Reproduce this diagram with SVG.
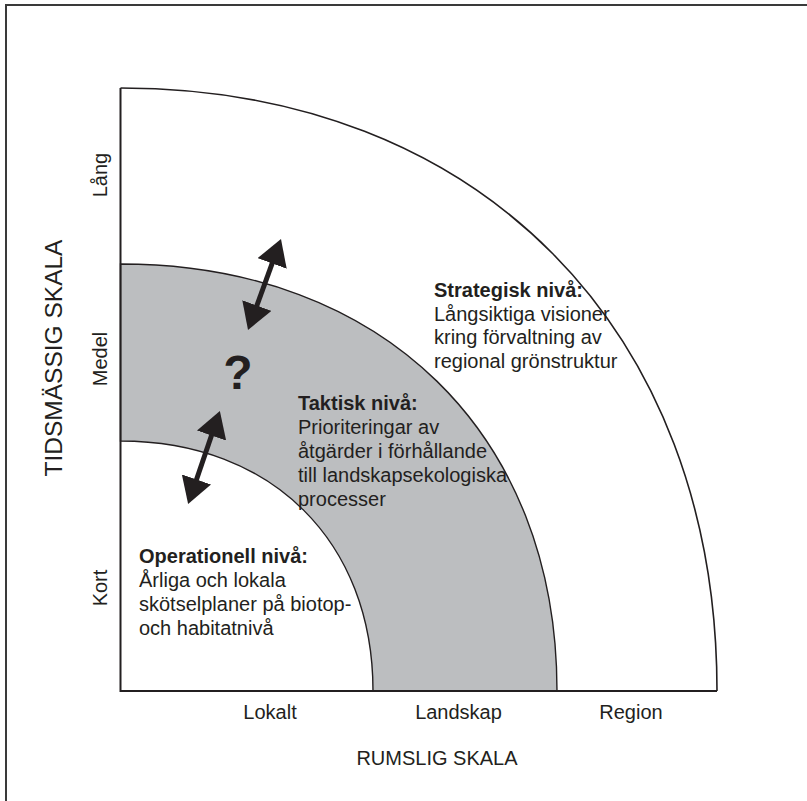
<svg xmlns="http://www.w3.org/2000/svg" width="807" height="801" viewBox="0 0 807 801">
  <defs>
    <style>
      .t { font-family: "Liberation Sans", Arial, sans-serif; font-size: 20px; fill: #231f20; }
      .b { font-weight: bold; }
      .line { fill: none; stroke: #231f20; }
      .arrow { stroke: #231f20; stroke-width: 5; marker-start: url(#head); marker-end: url(#head); }
    </style>
    <marker id="head" markerUnits="userSpaceOnUse" markerWidth="26" markerHeight="31" viewBox="0 0 26 31" refX="14" refY="15.5" orient="auto-start-reverse">
      <path d="M0,0 L26,15.5 L0,31 Z" fill="#231f20"/>
    </marker>
  </defs>
  <rect x="0" y="0" width="807" height="801" fill="#ffffff"/>
  <rect id="frame" x="6" y="5" width="830" height="830" fill="none" stroke="#3a3a3a" stroke-width="2"/>

  <g id="strategic-zone">
    <path class="line" stroke-width="1.6" d="M120.5,88 C478,88 717,329 717,691"/>
  </g>
  <g id="tactical-zone">
    <path fill="#bcbec0" stroke="#231f20" stroke-width="1.4" d="M120.5,264 C382,264 557,434 557,691 L373,691 C373,542 272,441 120.5,441 Z"/>
  </g>
  <g id="axes">
    <path class="line" stroke-width="2" d="M120.5,88 L120.5,691 L717,691"/>
  </g>

  <g id="connectors">
    <line class="arrow" x1="276.9" y1="250.3" x2="252.1" y2="318.7"/>
    <line class="arrow" x1="216" y1="422.3" x2="192" y2="492.7"/>
  </g>

  <g id="question">
    <text class="t b" x="238" y="389" text-anchor="middle" style="font-size:48px">?</text>
  </g>

  <g id="strategisk">
    <text class="t b" x="434" y="297">Strategisk nivå:</text>
    <text class="t" x="434" y="320.5">Långsiktiga visioner</text>
    <text class="t" x="434" y="344">kring förvaltning av</text>
    <text class="t" x="434" y="367.5">regional grönstruktur</text>
  </g>
  <g id="taktisk">
    <text class="t b" x="298" y="410">Taktisk nivå:</text>
    <text class="t" x="298" y="434">Prioriteringar av</text>
    <text class="t" x="298" y="458">åtgärder i förhållande</text>
    <text class="t" x="298" y="482">till landskapsekologiska</text>
    <text class="t" x="298" y="506">processer</text>
  </g>
  <g id="operationell">
    <text class="t b" x="139" y="563">Operationell nivå:</text>
    <text class="t" x="139" y="587">Årliga och lokala</text>
    <text class="t" x="139" y="611">skötselplaner på biotop-</text>
    <text class="t" x="139" y="634.5">och habitatnivå</text>
  </g>

  <g id="x-axis-labels">
    <text class="t" x="270" y="719" text-anchor="middle">Lokalt</text>
    <text class="t" x="458.5" y="719" text-anchor="middle">Landskap</text>
    <text class="t" x="631" y="719" text-anchor="middle">Region</text>
    <text class="t" x="437" y="765" text-anchor="middle">RUMSLIG SKALA</text>
  </g>
  <g id="y-axis-labels">
    <text class="t" transform="translate(107,175) rotate(-90)" text-anchor="middle">Lång</text>
    <text class="t" transform="translate(107,359) rotate(-90)" text-anchor="middle">Medel</text>
    <text class="t" transform="translate(107,588) rotate(-90)" text-anchor="middle">Kort</text>
    <text class="t" transform="translate(62,358) rotate(-90)" text-anchor="middle" style="font-size:24.5px">TIDSMÄSSIG SKALA</text>
  </g>
</svg>
